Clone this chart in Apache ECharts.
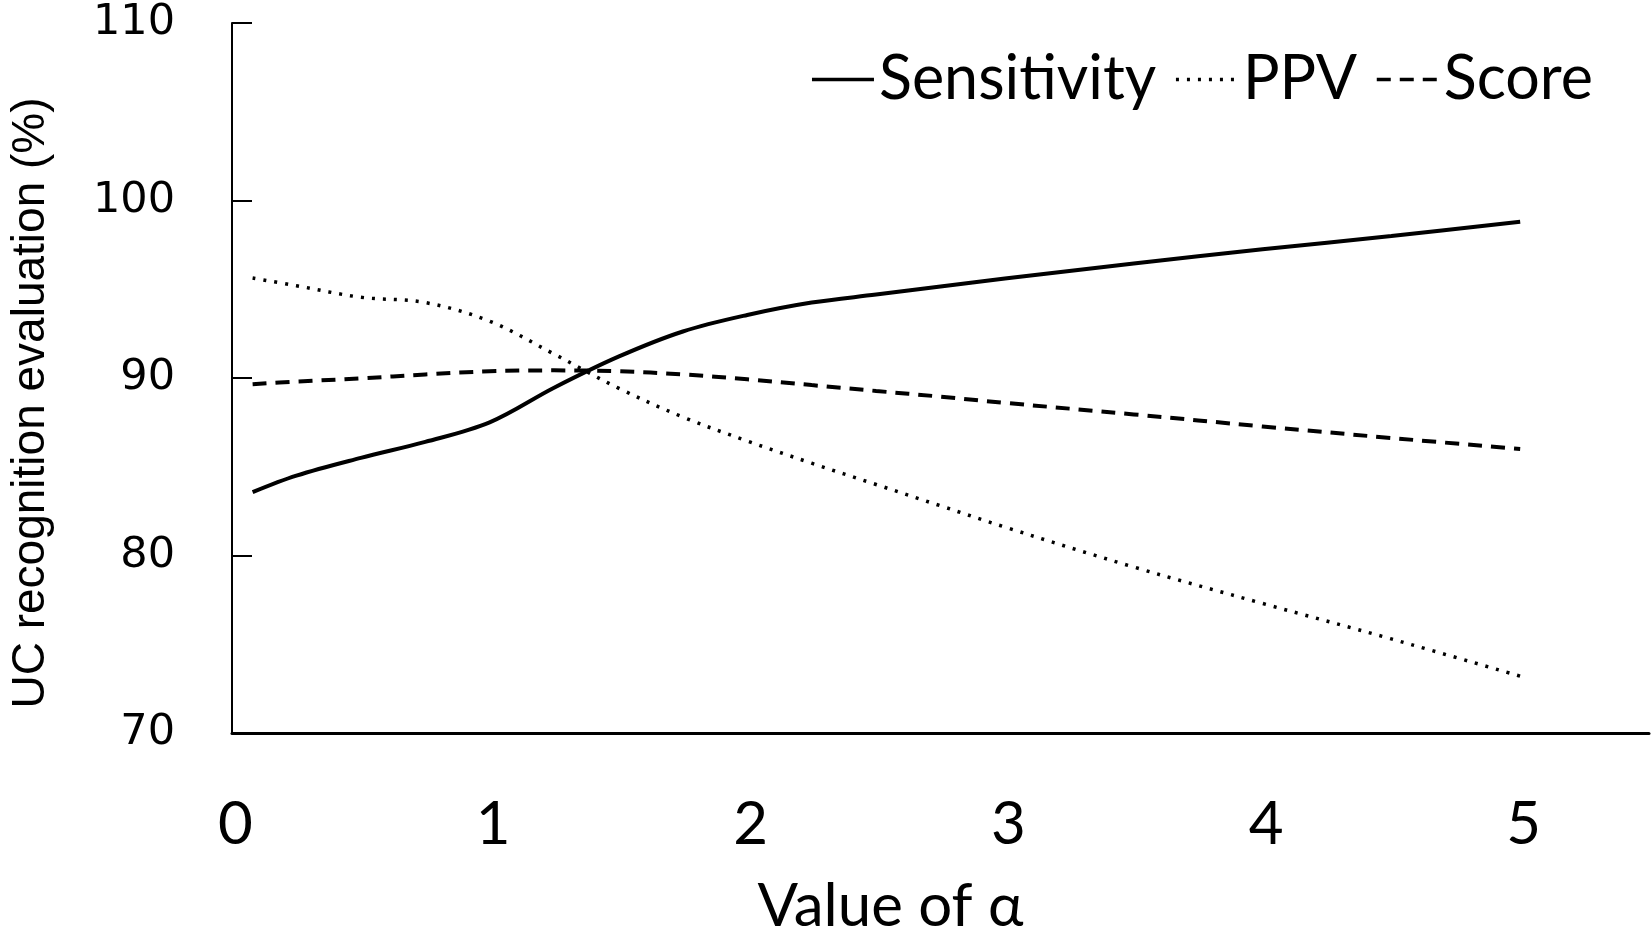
<!DOCTYPE html>
<html>
<head>
<meta charset="utf-8">
<script src="https://cdn.jsdelivr.net/npm/echarts@6/dist/echarts.min.js"></script>
<style>
html,body{margin:0;padding:0;background:#fff;}
#chart{width:1652px;height:942px;}
</style>
</head>
<body>
<div id="chart"></div>
<script>
const alphaValues = [0.08, 0.25, 0.5, 0.75, 1.0, 1.25, 1.5, 1.75, 2.0, 2.25, 2.5, 2.75, 3.0, 3.5, 4.0, 4.5, 5.0];
const sensitivity = [83.57, 84.5, 85.5, 86.4, 87.5, 89.45, 91.2, 92.62, 93.55, 94.25, 94.7, 95.15, 95.6, 96.45, 97.25, 98.0, 98.8];
const ppv =         [95.63, 95.2, 94.55, 94.25, 93.2, 91.35, 89.43, 87.8, 86.45, 85.2, 84.0, 82.8, 81.6, 79.35, 77.3, 75.3, 73.2];
const score =       [89.65, 89.8, 89.98, 90.2, 90.38, 90.43, 90.38, 90.2, 89.93, 89.6, 89.27, 88.95, 88.6, 87.95, 87.27, 86.62, 86.0];
const seriesNames = ['Sensitivity', 'PPV', 'Score'];
const yTicks = [70, 80, 90, 100, 110];

const pairs = arr => alphaValues.map((a, i) => [a, arr[i]]);

const styles = [
  {width: 4, type: 'solid'},
  {width: 3.5, type: [3, 8]},
  {width: 4, type: [14, 9]}
];

const chart = echarts.init(document.getElementById('chart'), null, {renderer: 'canvas'});
const latin = 'Lato, "Open Sans", sans-serif';
chart.setOption({
  animation: false,
  backgroundColor: '#ffffff',
  grid: {left: 231, right: 3, top: 23, bottom: 208, containLabel: false},
  legend: {
    data: seriesNames,
    right: 59, top: 49, padding: 0,
    itemWidth: 62, itemHeight: 14, itemGap: 18,
    itemStyle: {opacity: 0},
    lineStyle: {width: 3.5, color: '#000'},
    textStyle: {fontFamily: latin, fontSize: 61, color: '#000'}
  },
  xAxis: {
    type: 'value', min: 0, max: 5.5, interval: 1,
    name: 'Value of α', nameLocation: 'middle', nameGap: 144,
    nameTextStyle: {fontFamily: latin, fontSize: 60, color: '#000', padding: [0, 100, 0, 0]},
    axisLine: {show: true, onZero: false, lineStyle: {color: '#000', width: 3}},
    axisTick: {show: false},
    splitLine: {show: false},
    axisLabel: {
      margin: 62, fontFamily: latin, fontSize: 60, color: '#000', padding: [0, 0, 0, 7],
      formatter: v => (Number.isInteger(v) ? String(v) : '')
    }
  },
  yAxis: {
    type: 'value', min: yTicks[0], max: yTicks[yTicks.length - 1], interval: 10,
    name: 'UC recognition evaluation (%)', nameLocation: 'middle', nameGap: 178,
    nameTextStyle: {fontFamily: '"Liberation Sans", Arial, sans-serif', fontSize: 46, color: '#000', padding: [0, 50, 0, 0]},
    axisLine: {show: true, lineStyle: {color: '#000', width: 2}},
    axisTick: {show: true, inside: true, length: 20, lineStyle: {color: '#000', width: 2}},
    splitLine: {show: false},
    axisLabel: {margin: 57, fontFamily: '"DejaVu Sans", sans-serif', fontSize: 43, color: '#000'}
  },
  series: seriesNames.map((n, i) => ({
    name: n, type: 'line', data: pairs([sensitivity, ppv, score][i]), smooth: 0.35,
    symbol: 'none', lineStyle: Object.assign({color: '#000'}, styles[i]), itemStyle: {color: '#000'}
  }))
});
</script>
</body>
</html>
